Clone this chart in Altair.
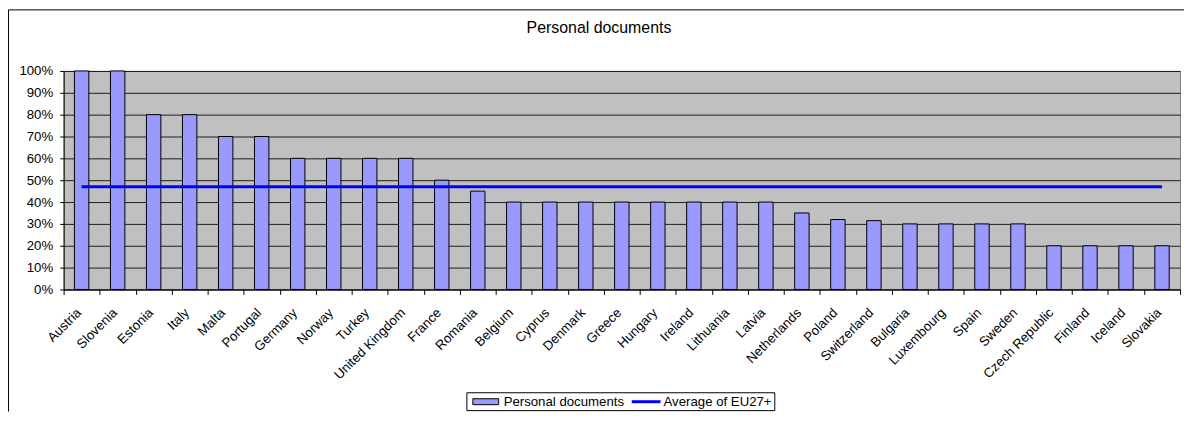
import altair as alt
import pandas as pd

countries = ["Austria", "Slovenia", "Estonia", "Italy", "Malta", "Portugal", "Germany",
             "Norway", "Turkey", "United Kingdom", "France", "Romania", "Belgium", "Cyprus",
             "Denmark", "Greece", "Hungary", "Ireland", "Lithuania", "Latvia", "Netherlands",
             "Poland", "Switzerland", "Bulgaria", "Luxembourg", "Spain", "Sweden",
             "Czech Republic", "Finland", "Iceland", "Slovakia"]
personal_documents = [1.00, 1.00, 0.80, 0.80, 0.70, 0.70, 0.60, 0.60, 0.60, 0.60, 0.50, 0.45,
                      0.40, 0.40, 0.40, 0.40, 0.40, 0.40, 0.40, 0.40, 0.35, 0.32, 0.315,
                      0.30, 0.30, 0.30, 0.30, 0.20, 0.20, 0.20, 0.20]
eu_average = 0.47
y_ticks = [0, 0.1, 0.2, 0.3, 0.4, 0.5, 0.6, 0.7, 0.8, 0.9, 1.0]

df = pd.DataFrame({
    "country": countries,
    "value": personal_documents,
    "avg": [eu_average] * len(countries),
})

FONT = "Liberation Sans"
FS = 13.3
W, H = 1124, 220

x_scale = alt.Scale(paddingInner=0, paddingOuter=0)
y_scale = alt.Scale(domain=[0, 1], nice=False)
x_axis = alt.Axis(labelAngle=-45, labelFontSize=FS, labelColor="black",
                  labelFont=FONT, tickBand="extent", tickSize=5,
                  tickColor="black", domainColor="black", grid=False,
                  labelPadding=11, labelOffset=-8, labelOverlap=False)
y_axis = alt.Axis(values=y_ticks, format=".0%", labelFontSize=FS,
                  labelColor="black", labelFont=FONT, grid=True,
                  gridColor="black", gridWidth=1, gridOpacity=0.85,
                  tickColor="black", tickSize=4, domainColor="black",
                  labelPadding=7, labelOverlap=False)

bars = alt.Chart(df).mark_bar(
    width=alt.RelativeBandSize(0.40), color="#9999FF", stroke="black", strokeWidth=1
).encode(
    x=alt.X("country:N", sort=None, title=None, scale=x_scale, axis=x_axis),
    y=alt.Y("value:Q", scale=y_scale, title=None, axis=y_axis),
)

line = alt.Chart(df).mark_line(color="#0000FF", strokeWidth=3).encode(
    x=alt.X("country:N", sort=None, title=None, scale=x_scale, axis=x_axis),
    y=alt.Y("avg:Q", scale=y_scale, title=None, axis=y_axis),
)

one = alt.Data(values=[{}])

title = alt.Chart(one).mark_text(
    text="Personal documents", font=FONT, fontSize=16, color="black",
    align="center", baseline="middle"
).encode(x=alt.value(539), y=alt.value(-43))

border_left = alt.Chart(one).mark_rule(color="black", strokeWidth=1).encode(
    x=alt.value(-55.5), y=alt.value(-61.5), y2=alt.value(343))
border_top = alt.Chart(one).mark_rule(color="black", strokeWidth=1).encode(
    x=alt.value(-55.5), x2=alt.value(1130), y=alt.value(-61.5))

legend_box = alt.Chart(one).mark_rect(
    fill="white", stroke="black", strokeWidth=1
).encode(x=alt.value(406), x2=alt.value(716), y=alt.value(324), y2=alt.value(342))
legend_swatch = alt.Chart(one).mark_rect(
    fill="#9999FF", stroke="black", strokeWidth=1
).encode(x=alt.value(412), x2=alt.value(438), y=alt.value(330), y2=alt.value(336))
legend_text1 = alt.Chart(one).mark_text(
    text="Personal documents", font=FONT, fontSize=FS, color="black",
    align="left", baseline="middle"
).encode(x=alt.value(443), y=alt.value(333))
legend_line = alt.Chart(one).mark_rule(color="#0000FF", strokeWidth=3).encode(
    x=alt.value(572), x2=alt.value(601), y=alt.value(333))
legend_text2 = alt.Chart(one).mark_text(
    text="Average of EU27+", font=FONT, fontSize=FS, color="black",
    align="left", baseline="middle"
).encode(x=alt.value(604), y=alt.value(333))

chart = alt.layer(
    bars, line, title, border_left, border_top,
    legend_box, legend_swatch, legend_text1, legend_line, legend_text2
).properties(
    width=W, height=H,
    autosize=alt.AutoSizeParams(type="none"),
    padding={"left": 56, "top": 62, "right": 4, "bottom": 123},
    background="white",
).configure_view(
    fill="#C0C0C0", stroke="#808080", strokeWidth=1
)

chart.save("out.html", embed_options={"renderer": "svg", "actions": False})
